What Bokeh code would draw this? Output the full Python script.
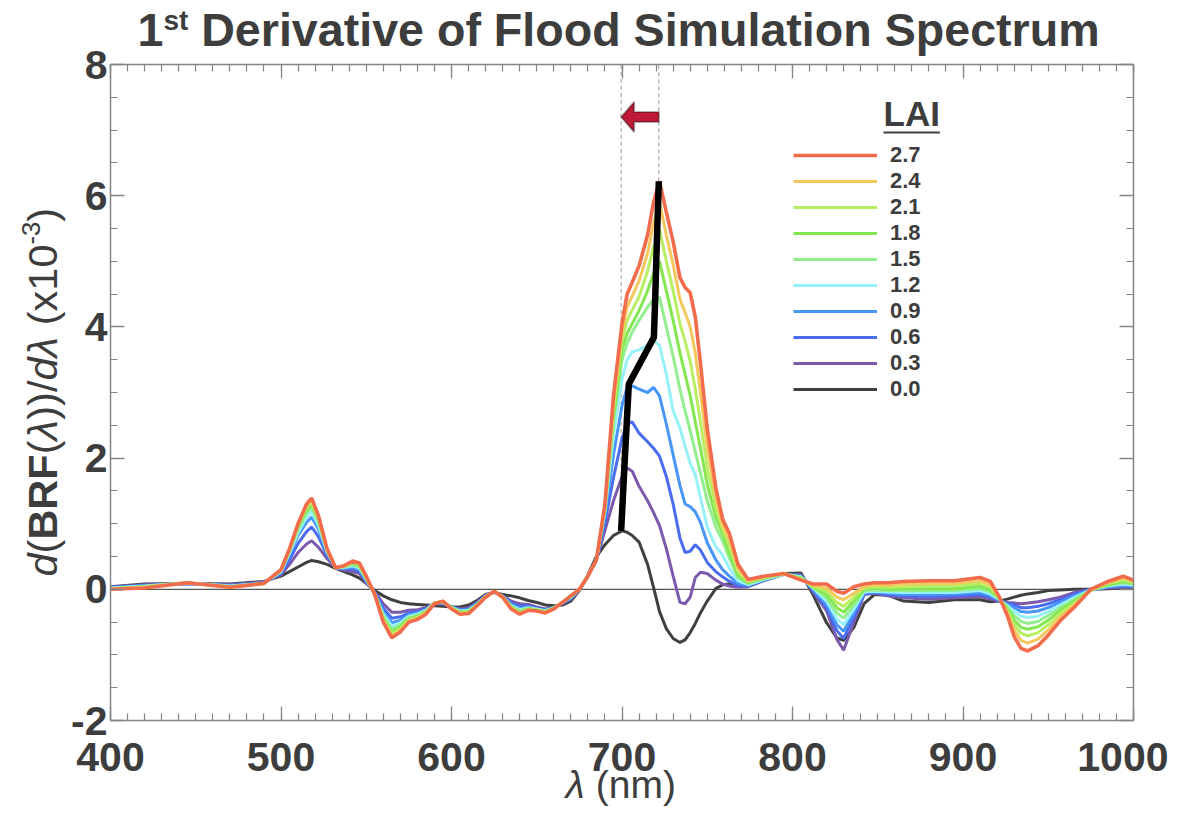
import numpy as np
from bokeh.plotting import figure
from bokeh.models import (Range1d, LinearAxis, Label, Legend, LegendItem,
                          FixedTicker, PolyAnnotation)
from bokeh.embed import file_html
from bokeh.resources import INLINE

# ---------------- data ----------------
WL = [400, 420, 445, 470, 490, 500, 505, 510, 515, 518, 522, 527, 532, 537, 542,
      546, 550, 555, 560, 565, 570, 575, 580, 585, 590, 595, 600, 605, 610, 615,
      620, 625, 630, 635, 640, 645, 650, 655, 660, 665, 670, 675, 680, 685, 690,
      695, 700, 703, 706, 710, 715, 718.5, 722, 726, 730, 734, 737, 740, 743, 746,
      750, 755, 759, 763, 768, 774, 783, 795, 805, 812, 820, 826, 830, 836, 842,
      848, 856, 865, 880, 895, 910, 916, 921, 926, 930, 934, 938, 944, 950, 957,
      965, 975, 985, 994, 1000]

LAI_LABELS = ["0.0", "0.3", "0.6", "0.9", "1.2", "1.5", "1.8", "2.1", "2.4", "2.7"]
LAI_COLORS = ["#404040", "#7b59ad", "#4a6cf0", "#4896f8", "#96f2f8",
              "#92ee8e", "#84e650", "#b8ee62", "#f4c85c", "#f26c4c"]

D_00 = [0.04, 0.08, 0.09, 0.08, 0.12, 0.20, 0.27, 0.34, 0.41, 0.44,
        0.42, 0.38, 0.32, 0.27, 0.22, 0.17, 0.09, -0.02, -0.10, -0.16,
        -0.20, -0.22, -0.23, -0.24, -0.25, -0.26, -0.27, -0.27, -0.24, -0.17,
        -0.08, -0.05, -0.08, -0.10, -0.13, -0.17, -0.20, -0.24, -0.25, -0.24,
        -0.18, -0.02, 0.22, 0.50, 0.68, 0.82, 0.89, 0.87, 0.82, 0.72,
        0.38, 0.03, -0.34, -0.60, -0.75, -0.81, -0.77, -0.66, -0.52, -0.36,
        -0.18, 0.01, 0.07, 0.08, 0.06, 0.06, 0.16, 0.24, 0.25, -0.08,
        -0.51, -0.74, -0.78, -0.58, -0.22, -0.08, -0.09, -0.18, -0.20, -0.16,
        -0.16, -0.19, -0.18, -0.15, -0.12, -0.09, -0.07, -0.05, -0.02, -0.01,
        0.00, 0.00, 0.01, 0.02, 0.02]
D_03 = [0.03, 0.07, 0.09, 0.07, 0.11, 0.22, 0.38, 0.56, 0.69, 0.74,
        0.64, 0.47, 0.33, 0.29, 0.27, 0.24, 0.10, -0.04, -0.22, -0.35,
        -0.35, -0.32, -0.31, -0.28, -0.22, -0.22, -0.27, -0.30, -0.28, -0.20,
        -0.09, -0.04, -0.10, -0.18, -0.22, -0.23, -0.27, -0.30, -0.28, -0.22,
        -0.15, -0.01, 0.20, 0.44, 0.90, 1.35, 1.72, 1.85, 1.80, 1.57,
        1.35, 1.17, 0.97, 0.62, 0.20, -0.20, -0.22, -0.12, 0.18, 0.26,
        0.24, 0.14, 0.08, 0.05, 0.03, 0.04, 0.13, 0.23, 0.22, -0.04,
        -0.33, -0.76, -0.93, -0.50, -0.08, -0.06, -0.10, -0.13, -0.15, -0.13,
        -0.11, -0.15, -0.18, -0.20, -0.21, -0.22, -0.21, -0.19, -0.16, -0.12,
        -0.05, 0.00, 0.02, 0.03, 0.03]
D_06 = [0.03, 0.06, 0.09, 0.06, 0.10, 0.24, 0.45, 0.70, 0.88, 0.95,
        0.80, 0.52, 0.33, 0.31, 0.31, 0.27, 0.12, -0.05, -0.29, -0.44,
        -0.42, -0.36, -0.34, -0.30, -0.22, -0.21, -0.27, -0.31, -0.30, -0.21,
        -0.10, -0.04, -0.10, -0.21, -0.26, -0.25, -0.29, -0.31, -0.28, -0.21,
        -0.14, -0.01, 0.20, 0.44, 1.02, 1.70, 2.30, 2.52, 2.55, 2.38,
        2.25, 2.15, 2.03, 1.72, 1.30, 0.78, 0.56, 0.58, 0.68, 0.60,
        0.41, 0.27, 0.19, 0.12, 0.06, 0.05, 0.14, 0.23, 0.21, -0.02,
        -0.28, -0.63, -0.75, -0.42, -0.07, -0.05, -0.08, -0.10, -0.11, -0.10,
        -0.08, -0.12, -0.17, -0.21, -0.24, -0.28, -0.28, -0.26, -0.22, -0.16,
        -0.08, 0.00, 0.03, 0.05, 0.04]
D_09 = [0.02, 0.05, 0.09, 0.05, 0.10, 0.26, 0.52, 0.82, 1.02, 1.10,
        0.91, 0.55, 0.33, 0.32, 0.34, 0.30, 0.14, -0.06, -0.34, -0.51,
        -0.47, -0.39, -0.36, -0.31, -0.21, -0.20, -0.27, -0.32, -0.31, -0.22,
        -0.10, -0.04, -0.11, -0.23, -0.29, -0.27, -0.30, -0.32, -0.28, -0.21,
        -0.13, -0.01, 0.20, 0.45, 1.12, 2.05, 2.80, 3.08, 3.10, 3.05,
        3.00, 3.08, 2.95, 2.52, 2.05, 1.58, 1.30, 1.26, 1.18, 1.02,
        0.71, 0.45, 0.30, 0.20, 0.09, 0.06, 0.14, 0.23, 0.20, 0.00,
        -0.23, -0.54, -0.64, -0.36, -0.05, -0.04, -0.06, -0.08, -0.08, -0.07,
        -0.05, -0.10, -0.16, -0.23, -0.28, -0.34, -0.35, -0.33, -0.28, -0.20,
        -0.10, -0.01, 0.04, 0.06, 0.05]
D_12 = [0.02, 0.05, 0.10, 0.05, 0.09, 0.27, 0.55, 0.86, 1.10, 1.18,
        0.97, 0.57, 0.33, 0.33, 0.36, 0.32, 0.15, -0.07, -0.38, -0.56,
        -0.51, -0.41, -0.38, -0.32, -0.21, -0.20, -0.28, -0.33, -0.32, -0.23,
        -0.11, -0.04, -0.11, -0.25, -0.31, -0.28, -0.30, -0.33, -0.28, -0.20,
        -0.12, 0.00, 0.20, 0.45, 1.18, 2.35, 3.20, 3.50, 3.62, 3.65,
        3.72, 3.79, 3.72, 3.28, 2.72, 2.46, 2.18, 1.92, 1.75, 1.40,
        0.95, 0.65, 0.52, 0.32, 0.13, 0.07, 0.15, 0.23, 0.19, 0.02,
        -0.18, -0.45, -0.54, -0.30, -0.04, -0.03, -0.04, -0.05, -0.05, -0.05,
        -0.02, -0.07, -0.15, -0.25, -0.34, -0.41, -0.43, -0.41, -0.34, -0.24,
        -0.13, -0.01, 0.05, 0.08, 0.06]
D_15 = [0.01, 0.04, 0.10, 0.04, 0.09, 0.28, 0.58, 0.92, 1.16, 1.25,
        1.02, 0.59, 0.33, 0.34, 0.38, 0.34, 0.16, -0.07, -0.41, -0.61,
        -0.54, -0.43, -0.40, -0.33, -0.21, -0.19, -0.28, -0.34, -0.33, -0.23,
        -0.11, -0.03, -0.11, -0.26, -0.33, -0.29, -0.31, -0.33, -0.29, -0.20,
        -0.11, 0.00, 0.20, 0.45, 1.22, 2.55, 3.50, 3.75, 3.92, 4.10,
        4.30, 4.42, 4.45, 4.00, 3.55, 3.05, 2.72, 2.42, 2.10, 1.78,
        1.35, 0.95, 0.74, 0.47, 0.18, 0.09, 0.16, 0.23, 0.18, 0.03,
        -0.13, -0.36, -0.44, -0.24, -0.02, -0.01, -0.02, -0.02, -0.02, -0.02,
        0.01, -0.04, -0.14, -0.27, -0.40, -0.49, -0.52, -0.49, -0.40, -0.28,
        -0.16, -0.01, 0.06, 0.10, 0.08]
D_18 = [0.01, 0.04, 0.10, 0.04, 0.09, 0.29, 0.60, 0.95, 1.21, 1.30,
        1.06, 0.60, 0.33, 0.35, 0.40, 0.36, 0.17, -0.08, -0.44, -0.65,
        -0.57, -0.45, -0.41, -0.34, -0.21, -0.19, -0.28, -0.35, -0.34, -0.24,
        -0.11, -0.03, -0.11, -0.27, -0.34, -0.30, -0.32, -0.34, -0.29, -0.20,
        -0.11, 0.00, 0.20, 0.45, 1.24, 2.65, 3.66, 3.90, 4.05, 4.25,
        4.55, 4.82, 5.00, 4.55, 4.10, 3.60, 3.28, 2.95, 2.55, 2.15,
        1.60, 1.10, 0.84, 0.56, 0.22, 0.10, 0.17, 0.24, 0.17, 0.04,
        -0.08, -0.28, -0.35, -0.18, 0.00, 0.02, 0.00, 0.01, 0.01, 0.01,
        0.05, -0.01, -0.13, -0.30, -0.47, -0.58, -0.61, -0.57, -0.47, -0.32,
        -0.19, -0.01, 0.07, 0.12, 0.09]
D_21 = [0.01, 0.03, 0.10, 0.03, 0.09, 0.29, 0.61, 0.97, 1.25, 1.33,
        1.08, 0.61, 0.33, 0.35, 0.41, 0.38, 0.18, -0.08, -0.46, -0.68,
        -0.60, -0.47, -0.43, -0.35, -0.21, -0.18, -0.29, -0.36, -0.35, -0.24,
        -0.12, -0.03, -0.12, -0.28, -0.36, -0.31, -0.32, -0.35, -0.29, -0.20,
        -0.10, 0.00, 0.20, 0.45, 1.26, 2.75, 3.80, 4.10, 4.26, 4.46,
        4.85, 5.22, 5.48, 5.00, 4.55, 4.05, 3.78, 3.48, 3.05, 2.55,
        1.85, 1.25, 0.92, 0.66, 0.27, 0.12, 0.18, 0.24, 0.16, 0.05,
        -0.03, -0.20, -0.26, -0.12, 0.02, 0.04, 0.03, 0.04, 0.05, 0.05,
        0.09, 0.03, -0.12, -0.33, -0.54, -0.67, -0.71, -0.66, -0.54, -0.37,
        -0.22, -0.01, 0.09, 0.14, 0.10]
D_24 = [0.00, 0.03, 0.10, 0.03, 0.09, 0.30, 0.62, 0.99, 1.28, 1.36,
        1.10, 0.62, 0.33, 0.36, 0.42, 0.39, 0.19, -0.08, -0.48, -0.71,
        -0.62, -0.48, -0.44, -0.36, -0.21, -0.18, -0.29, -0.37, -0.36, -0.25,
        -0.12, -0.03, -0.12, -0.29, -0.37, -0.31, -0.33, -0.35, -0.30, -0.20,
        -0.10, 0.00, 0.20, 0.45, 1.28, 2.85, 3.92, 4.30, 4.47, 4.70,
        5.12, 5.58, 5.90, 5.40, 4.95, 4.42, 4.22, 4.00, 3.60, 3.00,
        2.15, 1.40, 0.98, 0.76, 0.32, 0.13, 0.19, 0.24, 0.15, 0.06,
        0.02, -0.12, -0.16, -0.06, 0.04, 0.07, 0.06, 0.08, 0.09, 0.09,
        0.13, 0.07, -0.11, -0.36, -0.62, -0.78, -0.82, -0.76, -0.62, -0.42,
        -0.25, -0.01, 0.10, 0.17, 0.12]
D_27 = [0.00, 0.02, 0.10, 0.03, 0.09, 0.30, 0.62, 1.00, 1.30, 1.39,
        1.12, 0.62, 0.33, 0.36, 0.43, 0.40, 0.20, -0.08, -0.50, -0.74,
        -0.65, -0.50, -0.46, -0.38, -0.22, -0.18, -0.30, -0.38, -0.37, -0.25,
        -0.12, -0.03, -0.12, -0.30, -0.38, -0.32, -0.33, -0.36, -0.30, -0.20,
        -0.10, 0.00, 0.20, 0.45, 1.30, 2.95, 4.05, 4.50, 4.68, 4.93,
        5.40, 5.90, 6.22, 5.75, 5.30, 4.75, 4.60, 4.52, 4.15, 3.45,
        2.45, 1.55, 1.07, 0.85, 0.38, 0.15, 0.20, 0.24, 0.14, 0.08,
        0.08, -0.03, -0.06, 0.04, 0.08, 0.10, 0.10, 0.12, 0.13, 0.13,
        0.18, 0.12, -0.10, -0.40, -0.72, -0.90, -0.94, -0.86, -0.70, -0.48,
        -0.28, 0.00, 0.12, 0.20, 0.14]

SERIES = [D_00, D_03, D_06, D_09, D_12, D_15, D_18, D_21, D_24, D_27]

# red-edge position (peak of each curve)
REP_WL = [699.5, 701.4, 702.8, 704.0, 718.7, 719.5, 720.1, 720.7, 721.2, 721.6]
REP_VAL = [0.89, 1.86, 2.55, 3.13, 3.84, 4.45, 5.00, 5.50, 5.90, 6.22]
ARROW_Y = 7.2

X_MIN, X_MAX = 400, 1000
Y_MIN, Y_MAX = -2, 8
X_TICKS = [400, 500, 600, 700, 800, 900, 1000]
Y_TICKS = [-2, 0, 2, 4, 6, 8]

# ---------------- layout ----------------
FONT = "Liberation Sans"
TXT = "#3d3d3d"
AXC = "#858585"
W, H = 1168, 808
# plot box in canvas pixels
PL, PR, PT, PB = 110, 1133, 64, 720
PXN = (PR - PL) / (X_MAX - X_MIN)
PXV = (PB - PT) / (Y_MAX - Y_MIN)
XR0, XR1 = X_MIN - PL / PXN, X_MAX + (W - PR) / PXN
YR1, YR0 = Y_MAX + PT / PXV, Y_MIN - (H - PB) / PXV
BASE_FIX = 0.38  # correction of the rendered alphabetic baseline (in em)


def dx(px):
    return XR0 + px / PXN


def dy(py):
    return YR1 - py / PXV


p = figure(width=W, height=H, x_range=Range1d(XR0, XR1), y_range=Range1d(YR0, YR1),
           output_backend="svg", toolbar_location=None,
           x_axis_location=None, y_axis_location=None,
           min_border_left=0, min_border_right=0, min_border_top=0, min_border_bottom=0)
p.xgrid.visible = False
p.ygrid.visible = False
p.outline_line_color = None
p.background_fill_color = "white"
p.border_fill_color = "white"

x_minor = list(range(X_MIN, X_MAX + 1, 10))
y_minor = [Y_MIN + 0.5 * k for k in range(int((Y_MAX - Y_MIN) / 0.5) + 1)]


def make_axis(loc, ticks, minor, bounds, labels, side):
    ax = LinearAxis(fixed_location=loc, bounds=bounds)
    ax.ticker = FixedTicker(ticks=ticks, minor_ticks=minor)
    ax.major_tick_in = 14
    ax.major_tick_out = 0
    ax.minor_tick_in = 7
    ax.minor_tick_out = 0
    ax.axis_line_color = AXC
    ax.axis_line_width = 1.5
    ax.major_tick_line_color = AXC
    ax.major_tick_line_width = 1.3
    ax.minor_tick_line_color = AXC
    ax.minor_tick_line_width = 1.2
    if labels:
        ax.major_label_text_font = FONT
        ax.major_label_text_font_size = "41px"
        ax.major_label_text_font_style = "bold"
        ax.major_label_text_color = TXT
        ax.major_label_overrides = {t: str(t) for t in ticks}
    else:
        ax.major_label_overrides = {t: "" for t in ticks}
    p.add_layout(ax, side)
    return ax


xb = make_axis(Y_MIN, X_TICKS, x_minor, (X_MIN, X_MAX), True, "below")
xb.major_label_standoff = 22
yl = make_axis(X_MIN, Y_TICKS, y_minor, (Y_MIN, Y_MAX), True, "left")
yl.major_label_standoff = 3
make_axis(Y_MAX, X_TICKS, x_minor, (X_MIN, X_MAX), False, "above")
make_axis(X_MAX, Y_TICKS, y_minor, (Y_MIN, Y_MAX), False, "right")

# zero line
p.segment(x0=[X_MIN], y0=[0], x1=[X_MAX], y1=[0], line_color="#555555", line_width=1.3)

# dashed guide lines at the red-edge extremes
EDGE_WL = [REP_WL[0], REP_WL[-1]]
EDGE_LOW = [REP_VAL[0], REP_VAL[-1]]
p.segment(x0=EDGE_WL, y0=EDGE_LOW, x1=EDGE_WL, y1=[Y_MAX, Y_MAX],
          line_color="#9a9a9a", line_width=1, line_dash="4 3")

renderers = []
for vals, col, lab in zip(SERIES, LAI_COLORS, LAI_LABELS):
    lw = 3.6 if lab == "2.7" else 3.0
    r = p.line(WL, vals, line_color=col, line_width=lw)
    renderers.append(r)

p.line(REP_WL, REP_VAL, line_color="black", line_width=6.5)

# arrow
a_to, a_from = EDGE_WL[0], EDGE_WL[1]
HL, HW, SW = 13, 15, 5
hx = a_to + HL / PXN
p.add_layout(PolyAnnotation(
    xs=[a_to, hx, hx, a_from, a_from, hx, hx],
    ys=[ARROW_Y, ARROW_Y + HW / PXV, ARROW_Y + SW / PXV, ARROW_Y + SW / PXV,
        ARROW_Y - SW / PXV, ARROW_Y - SW / PXV, ARROW_Y - HW / PXV],
    fill_color="#bf1a35", fill_alpha=1, line_color="black", line_width=2.2))

# legend
items = [LegendItem(label=lab, renderers=[r]) for lab, r in zip(LAI_LABELS, renderers)][::-1]
ROW = 26
legend = Legend(items=items, location=(793, H - (155 - ROW / 2 + 10 * ROW)),
                glyph_width=84, glyph_height=ROW, label_height=ROW, spacing=0,
                padding=0, margin=0, label_standoff=13,
                border_line_color=None, background_fill_alpha=0,
                label_text_font=FONT, label_text_font_size="22px",
                label_text_font_style="bold", label_text_color=TXT)
p.add_layout(legend)


def run(pieces, x0, y0, base, vertical=False):
    """Place text pieces one after another along a baseline (screen px)."""
    pos = 0.0
    for text, style, scale, rise, em in pieces:
        fs = base * scale
        stripped = text.lstrip(" ")
        lead = (len(text) - len(stripped)) * 0.278 * fs
        up = rise * base + BASE_FIX * fs
        if vertical:
            x, y, ang = x0 - up, y0 + pos + lead, np.pi / 2
        else:
            x, y, ang = x0 + pos + lead, y0 + up, 0
        p.add_layout(Label(x=x, y=y, x_units="screen", y_units="screen", text=stripped,
                           text_font=FONT, text_font_size=f"{fs:.1f}px",
                           text_font_style=style, text_color=TXT, angle=ang,
                           text_align="left", text_baseline="alphabetic"))
        pos += em * fs


# legend title
run([("LAI", "bold", 1.0, 0, 1.611)], 883, H - 126, 35)
p.segment(x0=[dx(883)], y0=[dy(132)], x1=[dx(883 + 1.611 * 35)], y1=[dy(132)],
          line_color=TXT, line_width=2.2)

# title
run([("1", "bold", 1.0, 0, 0.556),
     ("st", "bold", 0.6, 0.36, 0.889),
     (" Derivative of Flood Simulation Spectrum", "bold", 1.0, 0, 0)],
    137, H - 47, 46.6)

# y label
run([("d", "italic", 1.0, 0, 0.556),
     ("(", "normal", 1.0, 0, 0.333),
     ("BRF", "bold", 1.0, 0, 2.055),
     ("(", "normal", 1.0, 0, 0.333),
     ("λ", "italic", 1.0, 0, 0.5),
     ("))/", "normal", 1.0, 0, 0.944),
     ("d", "italic", 1.0, 0, 0.556),
     ("λ", "italic", 1.0, 0, 0.5),
     (" (x10", "normal", 1.0, 0, 2.223),
     ("-3", "normal", 0.62, 0.42, 0.889),
     (")", "normal", 1.0, 0, 0.333)],
    58, H - 576, 41.5, vertical=True)

# x label
run([("λ", "italic", 1.0, 0, 0.5),
     (" (nm)", "normal", 1.0, 0, 2.333)],
    565, H - 799, 39)

open("out.html", "w").write(file_html(p, INLINE))
